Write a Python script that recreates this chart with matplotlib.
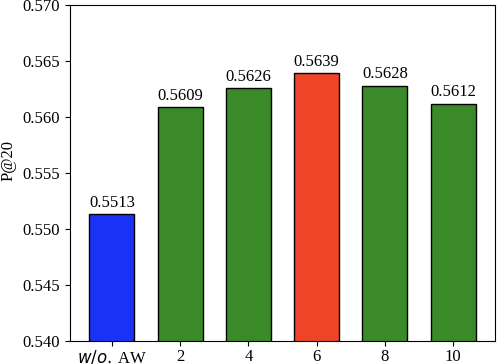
import numpy as np
import matplotlib
matplotlib.use('Agg')
import matplotlib.pyplot as plt

plt.rcParams['font.family'] = ['Liberation Serif', 'DejaVu Serif']
plt.rcParams['mathtext.fontset'] = 'dejavusans'

labels = ['$w/o.\\,$AW', '2', '4', '6', '8', '10']
values = [0.5513, 0.5609, 0.5626, 0.5639, 0.5628, 0.5612]
colors = ['#1a33f7', '#3a8a29', '#3a8a29', '#ee4427', '#3a8a29', '#3a8a29']

fig = plt.figure(figsize=(4.98, 3.64), dpi=100)
ax = fig.add_subplot(111)
fig.subplots_adjust(left=0.1406, right=0.994, top=0.986, bottom=0.0632)

x = np.arange(len(labels))
bars = ax.bar(x, values, width=0.66, color=colors, edgecolor='black', linewidth=1)
for b, v in zip(bars, values):
    ax.text(b.get_x() + b.get_width() / 2, v + 0.0003, '%.4f' % v,
            ha='center', va='bottom', fontsize=12)

ticks = np.arange(0.540, 0.5701, 0.005)
ax.set_ylim(0.540, 0.570)
ax.set_yticks(ticks)
ax.set_yticklabels(['%.3f' % t for t in ticks])
ax.set_xticks(x)
ax.set_xticklabels(labels)
ax.tick_params(labelsize=12)
ax.tick_params(axis='x', pad=2)
ax.set_ylabel('P@20', fontsize=12)
ax.yaxis.set_label_coords(-0.125, 0.536)

plt.savefig('out.png', dpi=100)
